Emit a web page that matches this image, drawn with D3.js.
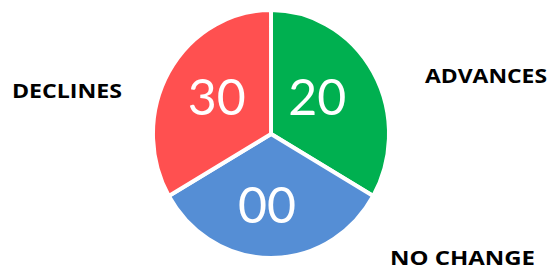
<!DOCTYPE html>
<html>
<head>
<meta charset="utf-8">
<script src="https://cdn.jsdelivr.net/npm/d3@7"></script>
<style>
  html, body { margin: 0; padding: 0; background: #ffffff; }
  svg { display: block; }
</style>
</head>
<body>
<svg id="chart" width="558" height="271"></svg>
<script>
// ---- data ----
const categories = ["ADVANCES", "NO CHANGE", "DECLINES"];
const sliceShares = [1, 1, 1];            // the three slices are drawn as equal thirds
const countLabels = ["20", "00", "30"];   // values printed inside the slices
const sliceColors = ["#00B050", "#558ED5", "#FF5050"];

// ---- layout ----
const W = 558, H = 271;
const cx = 271, cy = 134;
const R = 120;
const sx = 118 / R, sy = 124 / R;

const svg = d3.select("#chart");

const data = categories.map((c, i) => ({ cat: c, share: sliceShares[i], label: countLabels[i], color: sliceColors[i] }));

const pie = d3.pie().sort(null).value(d => d.share);
const arcs = pie(data);

const arc = d3.arc().innerRadius(0).outerRadius(R);
const labelArc = d3.arc().innerRadius(R * 0.58).outerRadius(R * 0.58);

const g = svg.append("g").attr("transform", `translate(${cx},${cy}) scale(${sx},${sy})`);

g.selectAll("path")
  .data(arcs)
  .join("path")
  .attr("d", arc)
  .attr("fill", d => d.data.color)
  .attr("stroke", "#ffffff")
  .attr("stroke-width", 4)
  .attr("stroke-linejoin", "miter");

const tg = svg.append("g").attr("transform", `translate(${cx - 4},${cy - 2})`);
tg.selectAll("text")
  .data(arcs)
  .join("text")
  .attr("x", d => labelArc.centroid(d)[0] * sx * 0.85)
  .attr("y", d => labelArc.centroid(d)[1] * sy)
  .attr("text-anchor", "middle")
  .attr("dominant-baseline", "central")
  .attr("fill", "#ffffff")
  .attr("font-family", "Lato, 'Open Sans', sans-serif")
  .attr("font-size", 50)
  .text(d => d.data.label);

// outer category labels: [left x, baseline y, width]
const outerPos = {
  "ADVANCES": [425, 83, 122],
  "NO CHANGE": [390, 265, 145],
  "DECLINES": [12, 98, 110]
};
svg.append("g").selectAll("text")
  .data(categories)
  .join("text")
  .attr("x", d => outerPos[d][0])
  .attr("y", d => outerPos[d][1])
  .attr("textLength", d => outerPos[d][2])
  .attr("lengthAdjust", "spacingAndGlyphs")
  .attr("font-family", "'Open Sans', Lato, sans-serif")
  .attr("font-weight", "bold")
  .attr("font-size", 20)
  .attr("fill", "#000000")
  .text(d => d);
</script>
</body>
</html>
